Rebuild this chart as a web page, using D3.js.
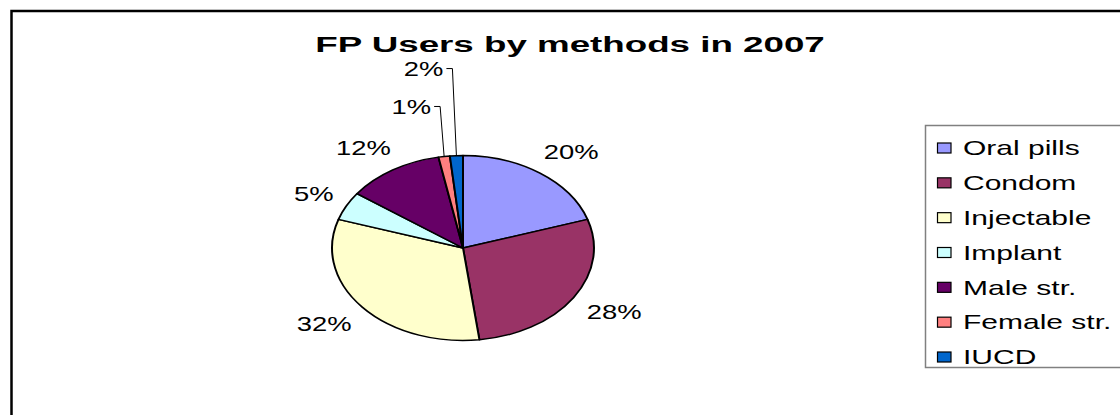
<html>
<head>
<title>FP Users by methods in 2007</title>
<style>
/* Global font */
body {
	margin: 0;
	background: #fff;
	font-family: 'Liberation Sans', Arial, sans-serif;
}
svg {
	display: block;
}
</style>
</head>
<body>
<svg width="1120" height="415"></svg>
<script src="https://d3js.org/d3.v7.min.js"></script>
<script>
// Chart data
const chartTitle = "FP Users by methods in 2007";
const methods = ["Oral pills", "Condom", "Injectable", "Implant", "Male str.", "Female str.", "IUCD"];
const shares = [20, 28, 32, 5, 12, 1.4, 1.6];
const colours = ["#9999FF", "#993366", "#FFFFCC", "#CCFFFF", "#660066", "#FF8080", "#0066CC"];

const svg = d3.select("svg");

// the original picture was stretched sideways
const pieStretch = 1.416;
const labelStretch = 1.37;
const legendStretch = 1.5;
const titleStretch = 1.67;

// outer frame (only left and top edges are visible)
svg.append("path")
	.attr("d", "M11.5,415 V11 H1120")
	.attr("fill", "none")
	.attr("stroke", "#000")
	.attr("stroke-width", 2.5);

// title
svg.append("g")
	.attr("transform", "translate(570,52) scale(" + titleStretch + ",1)")
	.append("text")
	.attr("text-anchor", "middle")
	.attr("font-size", 22)
	.attr("font-weight", "bold")
	.text(chartTitle);

// pie
const cx = 463, cy = 248, r = 92.5;
const arcs = d3.pie().sort(null).value(function(d) { return d; })(shares);
const arc = d3.arc().innerRadius(0).outerRadius(r);

svg.append("g")
	.attr("transform", "translate(" + cx + "," + cy + ") scale(" + pieStretch + ",1)")
	.selectAll("path")
	.data(arcs)
	.join("path")
	.attr("d", arc)
	.attr("fill", function(d, i) { return colours[i]; })
	.attr("stroke", "#000")
	.attr("stroke-width", 1.4)
	.attr("stroke-linejoin", "round");

// point on the stretched ellipse for an angle
function ellipsePoint(a, k) {
	return [cx + Math.sin(a) * r * pieStretch * k, cy - Math.cos(a) * r * k];
}

// percentage labels
let smallIndex = 0;
arcs.forEach(function(d, i) {
	const a = (d.startAngle + d.endAngle) / 2;
	const txt = Math.round(d.value) + "%";
	const g = svg.append("g");
	const t = g.append("text")
		.attr("dy", "0.36em")
		.attr("font-size", 20)
		.text(txt);
	const w = t.node().getComputedTextLength() * labelStretch;
	let pos;
	if (d.value < 3) {
		// small slices get a leader line going up
		const edge = ellipsePoint(a, 1);
		const ly = cy - r * (1.53 + 0.41 * smallIndex);
		const elbow = edge[0] - 4;
		svg.append("polyline")
			.attr("points", [[elbow - 6, ly], [elbow, ly], edge].map(function(p) { return p.join(","); }).join(" "))
			.attr("fill", "none")
			.attr("stroke", "#000")
			.attr("stroke-width", 1);
		pos = [elbow - 9 - w / 2, ly];
		smallIndex++;
	} else {
		pos = ellipsePoint(a, 1.28);
		pos[0] += Math.sign(Math.sin(a)) * (w / 2 - 20) * 1.3;
	}
	t.attr("text-anchor", "middle");
	g.attr("transform", "translate(" + pos[0] + "," + pos[1] + ") scale(" + labelStretch + ",1)");
});

// legend
const legend = svg.append("g");
legend.append("rect")
	.attr("x", 925.5)
	.attr("y", 125.5)
	.attr("width", 260)
	.attr("height", 242)
	.attr("fill", "#fff")
	.attr("stroke", "#808080")
	.attr("stroke-width", 1.5);

const rowY = d3.scalePoint().domain(methods).range([148, 357]);

const rows = legend.selectAll("g.row")
	.data(methods)
	.join("g")
	.attr("class", "row");

rows.append("rect")
	.attr("x", 937.5)
	.attr("y", function(d) { return rowY(d) - 5; })
	.attr("width", 13.5)
	.attr("height", 10)
	.attr("fill", function(d, i) { return colours[i]; })
	.attr("stroke", "#000")
	.attr("stroke-width", 1.2);

rows.append("g")
	.attr("transform", function(d) { return "translate(963," + rowY(d) + ") scale(" + legendStretch + ",1)"; })
	.append("text")
	.attr("dy", "0.36em")
	.attr("font-size", 20)
	.text(function(d) { return d; });
</script>
</body>
</html>
